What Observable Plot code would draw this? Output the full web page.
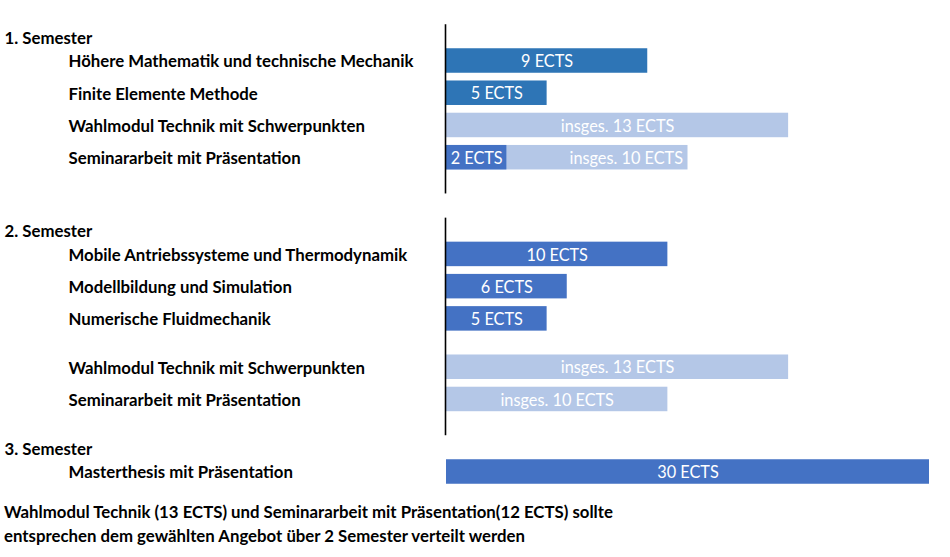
<!DOCTYPE html>
<html>
<head>
<meta charset="utf-8">
<script src="https://cdn.jsdelivr.net/npm/d3@7"></script>
<script src="https://cdn.jsdelivr.net/npm/@observablehq/plot@0.6"></script>
<style>
  html, body { margin: 0; padding: 0; background: #fff; }
  body { width: 950px; font-family: Lato, "Open Sans", sans-serif; }
  #chart svg { display: block; }
  .caption { padding-left: 4px; font-weight: bold; font-size: 16.8px; line-height: 24px; color: #000; margin-top: 0; }
</style>
</head>
<body>
<div id="chart"></div>
<div class="caption">Wahlmodul Technik (13 ECTS) und Seminararbeit mit Präsentation(12 ECTS) sollte<br>entsprechen dem gewählten Angebot über 2 Semester verteilt werden</div>
<script>
// ---- data ----
const semesterLabels = ["1. Semester", "2. Semester", "3. Semester"];
const courseNames = [
  "Höhere Mathematik und technische Mechanik",
  "Finite Elemente Methode",
  "Wahlmodul Technik mit Schwerpunkten",
  "Seminararbeit mit Präsentation",
  "Mobile Antriebssysteme und Thermodynamik",
  "Modellbildung und Simulation",
  "Numerische Fluidmechanik",
  "Wahlmodul Technik mit Schwerpunkten",
  "Seminararbeit mit Präsentation",
  "Masterthesis mit Präsentation"
];
const courseSemester = [1, 1, 1, 1, 2, 2, 2, 2, 2, 3];
const courseType = ["Pflicht1", "Pflicht1", "Wahl", "Wahl", "Pflicht", "Pflicht", "Pflicht", "Wahl", "Wahl", "Pflicht"];
// bar lengths as drawn (relative units)
const barLength = [10, 5, 17, 12, 11, 6, 5, 17, 11, 24];
const barText = ["9 ECTS", "5 ECTS", "insges. 13 ECTS", "insges. 10 ECTS", "10 ECTS", "6 ECTS", "5 ECTS", "insges. 13 ECTS", "insges. 10 ECTS", "30 ECTS"];
// fixed portion inside an elective bar
const partLength = [0, 0, 0, 3, 0, 0, 0, 0, 0, 0];
const partText = ["", "", "", "2 ECTS", "", "", "", "", "", ""];

// ---- layout (quarter-row slots) ----
const ROW = 4;
let s = 0;
const rows = courseNames.map((name, i) => {
  if (i > 0) {
    s += ROW;
    if (courseSemester[i] !== courseSemester[i - 1]) s += (courseSemester[i] === 2 ? 8 : 5);
    else if (courseType[i] === "Wahl" && courseType[i - 1] !== "Wahl" && courseSemester[i] === 2) s += 2;
  }
  return {name, sem: courseSemester[i], type: courseType[i], len: barLength[i], text: barText[i],
          part: partLength[i], partText: partText[i], slot: s};
});
const parts = rows.filter(d => d.part > 0);
const headers = semesterLabels.map((label, k) => {
  const first = rows.find(d => d.sem === k + 1);
  return {label, slot: first.slot - 3};
});
const brackets = [1, 2].map(k => {
  const r = rows.filter(d => d.sem === k);
  return {y1: r[0].slot - 4.5, y2: r[r.length - 1].slot + 4.5};
});
const H = 1.52;
const font = "Lato, 'Open Sans', sans-serif";

const chart = Plot.plot({
  width: 950,
  height: 500,
  marginLeft: 0, marginRight: 0, marginTop: 0, marginBottom: 0,
  x: {domain: [0, 24], range: [446, 929], axis: null},
  y: {domain: [0, 51], range: [60.5, 471.5], axis: null},
  color: {domain: ["Pflicht1", "Pflicht", "Wahl"], range: ["#2E75B6", "#4472C4", "#B4C7E7"]},
  style: {fontFamily: font, background: "#fff"},
  marks: [
    Plot.rect(rows, {x1: 0, x2: "len", y1: d => d.slot - H, y2: d => d.slot + H, fill: "type"}),
    Plot.rect(parts, {x1: 0, x2: "part", y1: d => d.slot - H, y2: d => d.slot + H, fill: "#4472C4"}),
    Plot.ruleX(brackets, {x: 0, y1: "y1", y2: "y2", stroke: "#000", strokeWidth: 1.6, dx: -1}),
    Plot.text(rows.filter(d => d.part === 0), {x: d => d.len / 2, y: "slot", text: "text", fill: "#fff", fontSize: 16.3, dy: 1}),
    Plot.text(parts, {x: "len", y: "slot", text: "text", fill: "#fff", fontSize: 16.3, textAnchor: "end", dx: -5, dy: 1}),
    Plot.text(parts, {x: d => d.part / 2, y: "slot", text: "partText", fill: "#fff", fontSize: 16.3, dy: 1}),
    Plot.text(rows, {frameAnchor: "left", y: "slot", text: "name", textAnchor: "start", dx: 68, dy: 1, fontWeight: "bold", fontSize: 16.8, fill: "#000"}),
    Plot.text(headers, {frameAnchor: "left", y: "slot", text: "label", textAnchor: "start", dx: 4, dy: 1.5, fontWeight: "bold", fontSize: 16.8, fill: "#000"})
  ]
});
document.getElementById("chart").appendChild(chart);
</script>
</body>
</html>
